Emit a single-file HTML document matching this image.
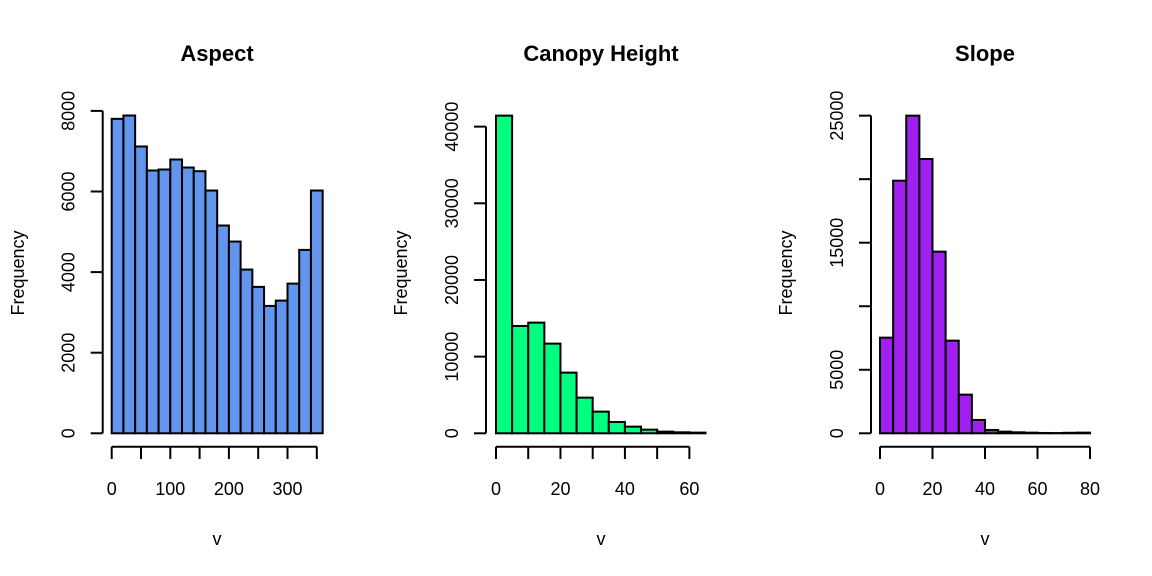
<!DOCTYPE html>
<html><head><meta charset="utf-8"><style>
body{margin:0;background:#fff}
svg{display:block;font-family:"Liberation Sans",Arial,sans-serif}
</style></head><body>
<svg id="chart" width="1152" height="576" viewBox="0 0 1152 576"></svg>
<script>
// Aspect
const aspectBreakStep = 20;
const aspectCounts = [7803,7886,7117,6521,6546,6794,6595,6504,6024,5156,4758,4063,3633,3161,3293,3715,4551,6024];
const aspectXTicks = [0,50,100,150,200,250,300,350];
const aspectXLabels = ["0","","100","","200","","300",""];
const aspectYTicks = [0,2000,4000,6000,8000];
const aspectYLabels = ["0","2000","4000","6000","8000"];
// Canopy Height
const canopyBreakStep = 5;
const canopyCounts = [41435,14000,14435,11696,7913,4652,2826,1478,870,478,217,130,87];
const canopyXTicks = [0,10,20,30,40,50,60];
const canopyXLabels = ["0","","20","","40","","60"];
const canopyYTicks = [0,10000,20000,30000,40000];
const canopyYLabels = ["0","10000","20000","30000","40000"];
// Slope
const slopeBreakStep = 5;
const slopeCounts = [7528,19882,25000,21590,14297,7293,3043,1049,262,131,79,52,26,20,40,52];
const slopeXTicks = [0,20,40,60,80];
const slopeXLabels = ["0","20","40","60","80"];
const slopeYTicks = [0,5000,10000,15000,20000,25000];
const slopeYLabels = ["0","5000","","15000","","25000"];

const NS="http://www.w3.org/2000/svg";
const svg=document.getElementById('chart');
function mk(tag,attrs,parent){const e=document.createElementNS(NS,tag);for(const k in attrs)e.setAttribute(k,attrs[k]);(parent||svg).appendChild(e);return e;}

function panel(cfg){
  const g=mk('g',{});
  
  
  const y0=433.3;
  const xs=v=>cfg.x0+v*cfg.pxX;
  const ys=v=>y0-v*cfg.pxY;
  cfg.counts.forEach((c,i)=>{
    const r=mk('rect',{x:xs(i*cfg.step),y:ys(c),width:cfg.step*cfg.pxX,height:y0-ys(c),fill:cfg.color,stroke:'#000','stroke-width':2},g);
    
    
  });
  const xa=mk('g',{},g);
  
  
  const xt=cfg.xTicks;
  mk('line',{x1:xs(xt[0]),x2:xs(xt[xt.length-1]),y1:446.7,y2:446.7,stroke:'#000','stroke-width':2},xa);
  xt.forEach((t,i)=>{
    mk('line',{x1:xs(t),x2:xs(t),y1:446.7,y2:459,stroke:'#000','stroke-width':2},xa);
    if(cfg.xLabels[i]!==""){
      const tx=mk('text',{x:xs(t),y:495,'text-anchor':'middle','font-size':18},xa);
      tx.textContent=cfg.xLabels[i];
    }
  });
  const ya=mk('g',{},g);
  
  
  const yt=cfg.yTicks, ax=cfg.yAxisX;
  mk('line',{x1:ax,x2:ax,y1:ys(yt[0]),y2:ys(yt[yt.length-1]),stroke:'#000','stroke-width':2},ya);
  yt.forEach((t,i)=>{
    mk('line',{x1:ax-12,x2:ax,y1:ys(t),y2:ys(t),stroke:'#000','stroke-width':2},ya);
    if(cfg.yLabels[i]!==""){
      const tx=mk('text',{x:0,y:0,'text-anchor':'middle','font-size':18,transform:`translate(${ax-28},${ys(t)}) rotate(-90)`},ya);
      tx.textContent=cfg.yLabels[i];
    }
  });
  const title=mk('text',{x:cfg.cx,y:61,'text-anchor':'middle','font-size':22,'font-weight':'bold'},g);
  title.textContent=cfg.title;
  
  
  const xl=mk('text',{x:cfg.cx,y:545,'text-anchor':'middle','font-size':18},g);
  xl.textContent='v';
  
  
  const yl=mk('text',{x:0,y:0,'text-anchor':'middle','font-size':18,transform:`translate(${cfg.ylx},273) rotate(-90)`},g);
  yl.textContent='Frequency';
  
  
}

panel({key:'aspect',title:'Aspect',color:'#6495ED',counts:aspectCounts,step:aspectBreakStep,x0:111.7,pxX:0.586,pxY:80.6/2000,xTicks:aspectXTicks,xLabels:aspectXLabels,yTicks:aspectYTicks,yLabels:aspectYLabels,yAxisX:102.7,cx:217,ylx:24});
panel({key:'canopy',title:'Canopy Height',color:'#00FF7F',counts:canopyCounts,step:canopyBreakStep,x0:496,pxX:3.223,pxY:76.67/10000,xTicks:canopyXTicks,xLabels:canopyXLabels,yTicks:canopyYTicks,yLabels:canopyYLabels,yAxisX:486,cx:601,ylx:407});
panel({key:'slope',title:'Slope',color:'#A020F0',counts:slopeCounts,step:slopeBreakStep,x0:880,pxX:2.625,pxY:63.53/5000,xTicks:slopeXTicks,xLabels:slopeXLabels,yTicks:slopeYTicks,yLabels:slopeYLabels,yAxisX:871,cx:985,ylx:792});
</script>
</body></html>
